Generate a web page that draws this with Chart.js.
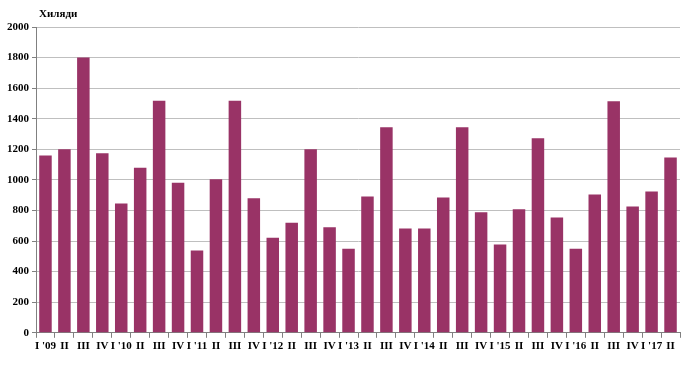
<!DOCTYPE html>
<html>
<head>
<meta charset="utf-8">
<script src="https://cdn.jsdelivr.net/npm/chart.js@4.4.1/dist/chart.umd.min.js"></script>
<style>
  html, body { margin: 0; padding: 0; background: #fff; }
  #wrap { width: 693px; height: 375px; position: relative; }
</style>
</head>
<body>
<div id="wrap"><canvas id="chart" width="693" height="375"></canvas></div>
<script>
// Quarterly values, thousands (Q1 2009 - Q2 2017)
const quarters = [
  "I '09", "II", "III", "IV",
  "I '10", "II", "III", "IV",
  "I '11", "II", "III", "IV",
  "I '12", "II", "III", "IV",
  "I '13", "II", "III", "IV",
  "I '14", "II", "III", "IV",
  "I '15", "II", "III", "IV",
  "I '16", "II", "III", "IV",
  "I '17", "II"
];
const values = [
  1160, 1200, 1800, 1175,
  845, 1080, 1518, 982,
  538, 1005, 1518, 880,
  622, 720, 1200, 690,
  550, 892, 1345, 682,
  682, 885, 1345, 788,
  577, 808, 1272, 754,
  550, 905, 1515, 826,
  924, 1147
];
const unitLabel = "Хиляди";
const yTicks = [0, 200, 400, 600, 800, 1000, 1200, 1400, 1600, 1800, 2000];

const barColor = "#993366";
const gridColor = "#bfbfbf";
const fontFamily = "'Liberation Serif', 'Times New Roman', serif";

// draws the unit label above the y axis
const unitPlugin = {
  id: 'unitLabel',
  afterDraw(chart) {
    const ctx = chart.ctx;
    ctx.save();
    ctx.font = "bold 11px " + fontFamily;
    ctx.fillStyle = "#000";
    ctx.textBaseline = "middle";
    ctx.textAlign = "left";
    ctx.fillText(unitLabel, chart.chartArea.left + 3, 14);
    ctx.restore();
  }
};

new Chart(document.getElementById('chart'), {
  type: 'bar',
  data: {
    labels: quarters,
    datasets: [{
      data: values,
      backgroundColor: barColor,
      borderWidth: 0,
      barPercentage: 0.66,
      categoryPercentage: 1.0
    }]
  },
  options: {
    responsive: false,
    animation: false,
    layout: { padding: { top: 27, right: 13, left: 4, bottom: 20 } },
    plugins: {
      legend: { display: false },
      tooltip: { enabled: false }
    },
    scales: {
      x: {
        offset: true,
        grid: {
          offset: true,
          drawOnChartArea: false,
          drawTicks: true,
          tickLength: 5,
          color: "#808080"
        },
        border: { color: "#808080", width: 1 },
        ticks: {
          autoSkip: false,
          maxRotation: 0,
          minRotation: 0,
          padding: 2,
          color: "#000",
          font: { family: fontFamily, size: 11, weight: 'bold' }
        }
      },
      y: {
        min: 0,
        max: 2000,
        afterBuildTicks(axis) { axis.ticks = yTicks.map(v => ({ value: v })); },
        grid: {
          color: gridColor,
          drawTicks: true,
          tickLength: 4,
          tickColor: "#808080"
        },
        border: { color: "#808080", width: 1 },
        ticks: {
          padding: 3,
          color: "#000",
          callback: v => String(v),
          font: { family: fontFamily, size: 11, weight: 'bold' }
        }
      }
    }
  },
  plugins: [unitPlugin]
});
</script>
</body>
</html>
